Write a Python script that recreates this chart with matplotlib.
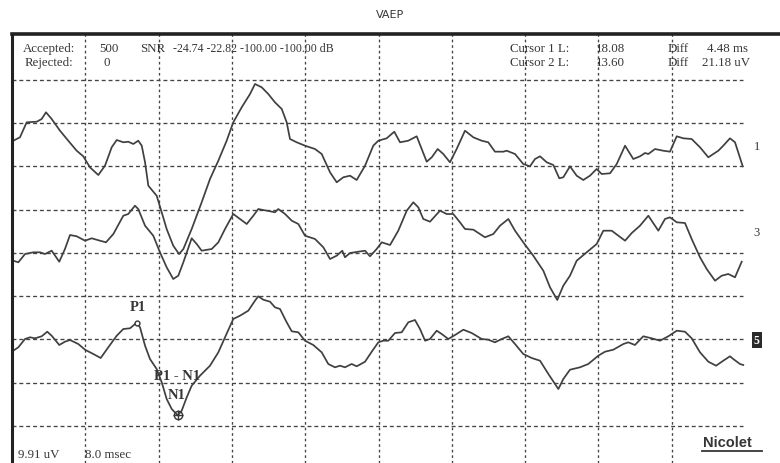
import numpy as np
import matplotlib
matplotlib.use("Agg")
import matplotlib.pyplot as plt
from matplotlib.lines import Line2D

plt.rcParams['font.family'] = ['Liberation Serif', 'DejaVu Serif']

# time (ms) / amplitude (uV) for the three channels
t1 = [0.14, 0.87, 1.60, 2.70, 3.24, 3.71, 4.33, 5.24, 6.14, 7.06, 7.78, 8.51, 9.42, 10.15, 10.88,
      11.43, 12.15, 12.69, 13.24, 13.78, 14.16, 14.52, 14.88, 15.79, 16.34, 16.88, 17.60, 18.23,
      18.70, 19.61, 20.70, 21.61, 22.52, 23.43, 24.15, 25.07, 25.98, 26.52, 27.25, 27.97, 28.70,
      29.44, 29.98, 30.34, 31.07, 31.98, 33.07, 33.80, 34.71, 35.44, 36.16, 36.89, 37.62, 38.53,
      39.43, 39.98, 40.89, 41.72, 42.35, 43.25, 44.17, 45.26, 45.81, 46.46, 47.07, 47.80, 48.53,
      49.44, 50.35, 51.26, 51.98, 52.71, 53.62, 53.99, 54.90, 55.80, 56.53, 57.08, 57.63, 58.36,
      59.08, 59.73, 60.17, 60.90, 61.63, 62.35, 63.08, 63.81, 64.36, 65.27, 66.00, 66.91, 67.81,
      68.54, 69.09, 69.45, 70.18, 71.08, 71.81, 72.55, 73.27, 74.18, 75.09, 76.00, 76.54, 77.09,
      77.63, 78.36, 78.91, 79.38, 79.75]
v1 = [1.21, 1.99, 5.42, 5.56, 6.18, 7.71, 6.18, 3.50, 1.21, -1.08, -2.36, -4.88, -6.64, -4.51, -0.30,
      1.37, 0.85, 0.98, 0.46, 1.21, 0.07, -3.73, -9.09, -11.38, -15.18, -19.00, -22.82, -24.72,
      -23.58, -19.00, -12.89, -7.55, -3.36, 1.21, 5.42, 8.86, 11.90, 14.19, 13.44, 11.90, 10.00,
      8.47, 5.42, 1.60, 0.85, 0.07, -0.69, -1.83, -6.02, -8.31, -7.16, -6.80, -7.78, -4.51,
      0.07, 1.21, 1.76, 3.27, 0.85, 1.21, 2.22, -3.59, -2.59, -0.69, -1.83, -3.73, -0.69,
      3.50, 1.99, 1.21, 0.85, -1.30, -1.30, -1.08, -1.83, -4.12, -4.65, -2.98, -2.36, -3.73,
      -4.35, -7.39, -7.16, -4.65, -6.80, -7.78, -6.80, -5.26, -6.41, -6.25, -4.12, 0.07, -2.98,
      -2.36, -1.60, -1.83, -0.69, -1.08, -1.30, 2.22, 1.76, 1.60, -0.30, -2.59, -1.83, -1.08,
      0.07, 1.76, 0.85, -2.22, -4.65]

t3 = [0.14, 0.69, 1.42, 2.32, 3.06, 3.60, 4.33, 5.16, 5.78, 6.33, 7.06, 7.97, 8.70, 9.60, 10.26,
      11.06, 12.15, 12.69, 13.42, 13.78, 14.52, 15.42, 16.15, 16.88, 17.60, 18.15, 18.70, 19.61,
      20.16, 20.70, 21.80, 22.52, 23.25, 24.15, 24.88, 25.62, 26.34, 26.88, 27.25, 28.16, 28.70,
      29.06, 29.80, 30.53, 31.25, 31.98, 33.07, 33.98, 34.71, 35.44, 36.05, 36.34, 36.89, 37.80,
      38.53, 39.07, 39.80, 40.35, 41.26, 42.16, 43.08, 43.80, 44.34, 44.89, 45.62, 46.71, 47.44,
      48.16, 48.89, 49.44, 50.35, 51.62, 52.53, 53.26, 54.17, 54.90, 55.80, 56.89, 57.99, 58.72,
      59.51, 60.17, 60.90, 61.63, 62.72, 63.81, 64.54, 65.45, 66.91, 67.64, 68.54, 69.45, 70.54,
      71.27, 71.81, 72.55, 73.45, 74.18, 75.09, 75.82, 76.73, 77.46, 78.18, 78.91, 79.64]
v3 = [-6.57, -6.94, -5.04, -4.65, -4.65, -5.04, -4.28, -6.80, -3.89, -0.69, -0.98, -1.99, -1.44, -1.99, -2.36,
      -0.46, 3.73, 4.12, 6.02, 5.26, 1.44, -0.85, -4.65, -8.08, -10.76, -10.00, -6.94, -1.44,
      -2.75, -4.28, -3.89, -2.36, 0.69, 4.12, 2.98, 1.83, 3.73, 5.26, 5.10, 4.74, 4.51,
      5.26, 4.12, 2.59, 1.83, -0.85, -1.60, -3.50, -6.18, -5.42, -4.28, -5.79, -4.81, -4.51,
      -4.28, -5.56, -3.89, -2.36, -2.98, 0.30, 4.88, 6.80, 5.65, 2.98, 2.36, 4.88, 4.12,
      4.12, 2.22, 0.69, 0.53, -1.21, -0.46, 1.44, 2.98, 0.30, -2.36, -5.42, -8.86, -12.66,
      -15.56, -12.29, -10.00, -6.57, -4.65, -2.75, 0.30, 0.30, -1.99, -0.23, 1.44, 3.73, 0.30,
      2.98, 3.36, 2.22, 2.06, -1.60, -5.79, -8.47, -11.15, -10.00, -9.61, -10.37, -6.80]

t5 = [0.14, 0.69, 1.42, 1.96, 2.51, 3.24, 3.85, 4.33, 5.16, 5.78, 6.33, 7.24, 7.97, 8.87, 9.68,
      10.51, 11.43, 12.15, 12.88, 13.60, 13.97, 14.52, 15.06, 15.79, 16.34, 16.88, 17.43, 18.08,
      18.52, 19.07, 19.61, 20.52, 21.61, 22.52, 23.25, 24.15, 24.88, 25.79, 26.52, 26.88, 27.43,
      28.16, 28.70, 29.25, 29.98, 30.53, 31.25, 31.98, 32.88, 33.80, 34.52, 35.25, 35.80, 36.34,
      37.07, 37.62, 38.53, 39.26, 39.98, 40.52, 41.07, 41.80, 42.53, 43.25, 43.98, 44.53, 45.08,
      45.62, 46.35, 46.90, 47.62, 48.35, 49.26, 50.17, 51.26, 51.98, 52.71, 53.45, 54.17, 54.90,
      55.80, 56.72, 57.63, 58.54, 59.63, 60.17, 60.90, 61.99, 62.90, 63.99, 64.72, 65.63, 66.72,
      67.26, 67.99, 68.90, 69.82, 70.72, 71.63, 72.55, 73.45, 74.18, 75.09, 76.00, 76.84, 77.63,
      78.36, 78.72, 79.45, 79.81]
v5 = [-2.45, -1.67, 0.23, 0.62, 0.39, 0.85, 1.90, 0.98, -1.14, -0.39, 0.00, -0.92, -2.22, -3.20, -4.12,
      -1.67, 0.98, 2.52, 2.68, 3.95, 2.91, -1.30, -4.35, -6.64, -9.68, -13.50, -15.79, -17.23,
      -16.18, -13.12, -10.46, -8.17, -5.88, -2.82, 0.62, 4.81, 5.56, 6.71, 9.00, 10.00, 9.22,
      8.77, 7.48, 7.10, 4.05, 1.99, 1.76, -0.16, -1.14, -2.82, -5.49, -6.25, -5.88, -6.25,
      -5.49, -6.02, -4.97, -2.68, -0.53, -0.16, -0.16, 1.60, 1.76, 4.05, 4.58, 2.52, -0.16,
      0.23, 2.13, 1.37, 0.23, 1.14, 2.36, 1.60, 0.23, 0.07, -0.53, 0.23, 0.85, -0.92,
      -3.20, -4.12, -4.74, -7.78, -11.22, -8.93, -6.80, -6.25, -5.49, -3.59, -2.68, -2.22, -0.92,
      -0.53, -1.14, 0.85, 0.39, -0.16, 0.85, 2.13, 1.90, 0.39, -2.82, -4.97, -5.88, -4.74,
      -3.73, -4.35, -5.49, -5.72]

channels = ["1", "3", "5"]
cursor_lat = [18.08, 13.60]      # N1, P1 (ms)
p1_amp, n1_amp = 3.95, -17.23    # uV
snr = "-24.74 -22.82 -100.00 -100.00 dB"

uv_div = 9.91
ms_div = 8.0
W, H = 780, 464
ink = "#363636"

fig = plt.figure(figsize=(W / 100, H / 100), dpi=100)
ax = fig.add_axes([12 / W, 0, 733 / W, (H - 35) / H])
top_uv = (427 - 35) / 43.3 * uv_div
bot_uv = -(H - 427) / 43.3 * uv_div
ax.set_xlim(0, 10 * ms_div)
ax.set_ylim(bot_uv, top_uv)
ax.set_xticks([])
ax.set_yticks([])
for s in ["top", "right", "bottom"]:
    ax.spines[s].set_visible(False)
ax.spines["left"].set_linewidth(2.2)
ax.spines["left"].set_color("#222222")

# grid
for k in range(0, 9):
    ax.axhline(k * uv_div, xmin=0, xmax=731 / 733, color="#444444", lw=0.95,
               linestyle=(0, (3, 2.2)))
for k in range(1, 10):
    ax.axvline(k * ms_div, color="#444444", lw=0.95, linestyle=(0, (2, 2.2)))

# top border
fig.add_artist(Line2D([12 / W, 1], [1 - 35 / H, 1 - 35 / H], color="#222222", lw=2.6))

# traces
bases = [(427 - 147) / 43.3 * uv_div, (427 - 233) / 43.3 * uv_div, (427 - 341) / 43.3 * uv_div]
for (t, v), b in zip([(t1, v1), (t3, v3), (t5, v5)], bases):
    ax.plot(t, np.array(v) + b, color="#404040", lw=1.25)

# channel labels
for i, (name, b) in enumerate(zip(channels, bases)):
    if i < 2:
        ax.text(81.3, b, name, fontsize=9, color=ink, ha="center", va="center",
                clip_on=False)
    else:
        ax.text(81.3, b, name, fontsize=8.5, color="white", ha="center", va="center",
                clip_on=False, fontweight="bold",
                bbox=dict(boxstyle="square,pad=0.2", fc="#2a2a2a", ec="none"))

# cursors / peak markers
b5 = bases[2]
ax.plot(cursor_lat[1], p1_amp + b5, marker="o", ms=3.5, mfc="white", mec=ink, mew=1)
ax.plot(cursor_lat[0], n1_amp + b5, marker="o", ms=6, mfc="none", mec=ink, mew=1)
ax.plot(cursor_lat[0], n1_amp + b5, marker="+", ms=7, mec=ink, mew=1)
ax.text(cursor_lat[1] + 0.1, p1_amp + b5 + 2.2, "P1", fontsize=10.5, fontweight="bold",
        color=ink, ha="center", va="bottom")
ax.text(cursor_lat[0] - 0.1, n1_amp + b5 + 9.0, "P1 - N1", fontsize=10.5, fontweight="bold",
        color=ink, ha="center", va="center")
ax.text(cursor_lat[0] - 0.1, n1_amp + b5 + 4.7, "N1", fontsize=10.5, fontweight="bold",
        color=ink, ha="center", va="center")

# header text
def ftext(x, y, s, **kw):
    kw.setdefault("fontsize", 9.3)
    kw.setdefault("color", ink)
    kw.setdefault("va", "center")
    fig.text(x / W, 1 - y / H, s, **kw)

ftext(23, 49, "Accepted:")
ftext(25, 63, "Rejected:")
ftext(99, 49, "500")
ftext(104, 63, "0")
ftext(140, 49, "SNR")
ftext(173, 49, snr, fontsize=8.6)
ftext(510, 49, "Cursor 1 L:")
ftext(510, 63, "Cursor 2 L:")
ftext(596, 49, "%.2f" % cursor_lat[0])
ftext(596, 63, "%.2f" % cursor_lat[1])
ftext(668, 49, "Diff")
ftext(668, 63, "Diff")
ftext(748, 49, "%.2f ms" % (cursor_lat[0] - cursor_lat[1]), ha="right")
ftext(750, 63, "%.2f uV" % (p1_amp - n1_amp), ha="right")

ftext(18, 455, "%.2f uV" % uv_div)
ftext(85, 455, "%.1f msec" % ms_div)

fig.text(390 / W, 1 - 15 / H, "VAEP", fontsize=8, family="DejaVu Sans", color=ink,
         ha="center", va="center")
fig.text(703 / W, 1 - 443 / H, "Nicolet", fontsize=10.5, family="Liberation Sans",
         fontweight="bold", color=ink, va="center")
fig.add_artist(Line2D([702 / W, 762 / W], [1 - 452 / H, 1 - 452 / H], color=ink, lw=1.3))

fig.savefig("out.png", dpi=100, facecolor="white")
